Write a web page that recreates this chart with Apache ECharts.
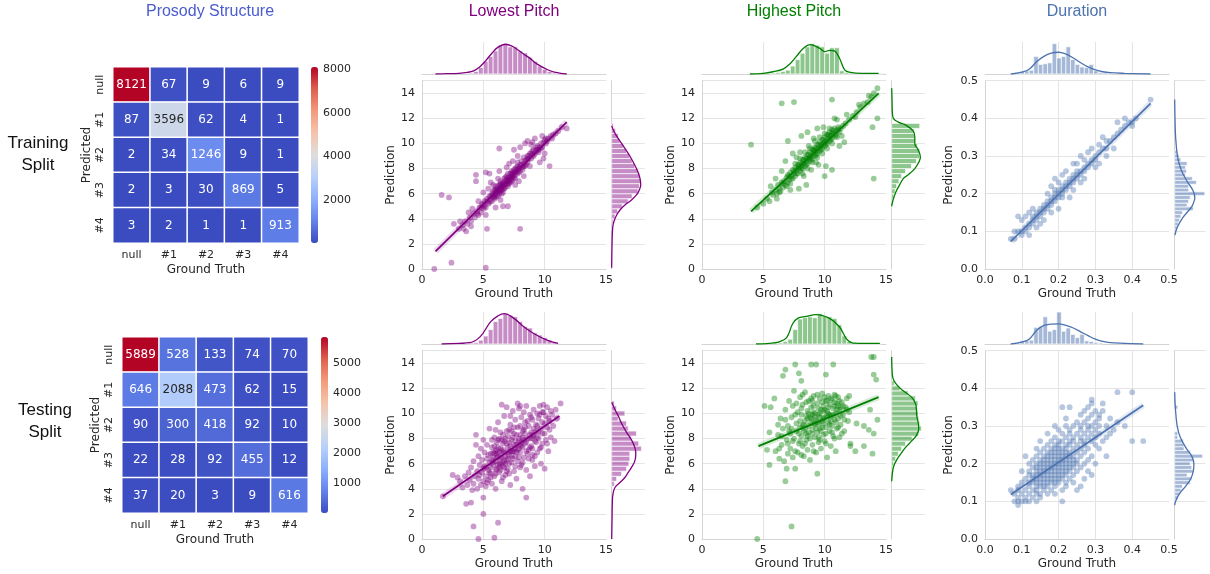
<!DOCTYPE html>
<html><head><meta charset="utf-8">
<script src="https://cdn.jsdelivr.net/npm/echarts@6/dist/echarts.min.js"></script>
<style>html,body{margin:0;padding:0;background:#fff}#c{width:1210px;height:574px}</style>
</head><body><div id="c"></div>
<script>
// ---------------- DATA ----------------
const colTitles = ['Prosody Structure', 'Lowest Pitch', 'Highest Pitch', 'Duration'];
const rowTitles = ['Training\nSplit', 'Testing\nSplit'];
const cmCats = ['null', '#1', '#2', '#3', '#4'];
const cmTrain = [[8121,67,9,6,9],[87,3596,62,4,1],[2,34,1246,9,1],[2,3,30,869,5],[3,2,1,1,913]];
const cmTest = [[5889,528,133,74,70],[646,2088,473,62,15],[90,300,418,92,10],[22,28,92,455,12],[37,20,3,9,616]];

// Lowest pitch, training: [x, y, x, y, ...]
const lpTrainPts = [3.0,3.2, 3.3,3.5, 3.5,3.8, 3.7,3.6, 3.9,4.1, 4.0,3.8, 4.2,4.4, 4.3,4.1, 4.5,4.6, 4.6,4.3, 4.7,4.9, 4.8,4.5, 4.9,5.2, 5.0,4.8, 5.1,5.0, 5.1,5.4, 5.2,4.9, 5.3,5.6, 5.4,5.2, 5.5,5.8, 5.5,5.3, 5.6,5.5, 5.7,6.0, 5.7,5.4, 5.8,5.9, 5.9,5.6, 5.9,6.3, 6.0,6.0, 6.0,5.7, 6.1,6.4, 6.1,5.9, 6.2,6.2, 6.2,6.6, 6.3,6.0, 6.3,6.4, 6.4,6.8, 6.4,6.2, 6.5,6.5, 6.5,6.0, 6.6,6.9, 6.6,6.4, 6.7,6.7, 6.7,7.2, 6.8,6.5, 6.8,7.0, 6.9,6.8, 6.9,7.4, 7.0,7.0, 7.0,6.6, 7.1,7.3, 7.1,7.0, 7.2,7.6, 7.2,6.9, 7.3,7.3, 7.3,7.8, 7.4,7.1, 7.4,7.5, 7.5,7.7, 7.5,7.3, 7.6,8.0, 7.6,7.5, 7.7,7.8, 7.8,8.2, 7.8,7.6, 7.9,8.0, 8.0,8.3, 8.0,7.8, 8.1,8.6, 8.2,8.1, 8.3,8.4, 8.3,8.9, 8.4,8.2, 8.5,8.7, 8.6,9.0, 8.6,8.5, 8.7,8.8, 8.8,9.2, 8.9,8.8, 9.0,9.1, 9.1,9.5, 9.2,9.2, 9.3,9.4, 9.4,9.8, 9.5,9.5, 9.6,9.7, 9.7,10.0, 9.8,9.7, 9.9,10.1, 10.0,10.3, 10.1,10.0, 10.3,10.4, 10.5,10.6, 10.7,10.7, 10.9,10.8, 11.1,11.0, 11.4,11.3, 11.8,11.2,
  1.6,5.9, 2.2,5.7, 1.0,0.0, 2.4,0.5, 5.2,0.1, 8.0,3.2, 5.3,3.2, 4.4,7.5, 4.4,7.0, 5.2,7.7, 5.5,7.6, 6.3,9.6, 7.5,9.5, 10.4,8.2, 10.0,9.2, 2.6,3.6, 3.1,3.8, 3.6,3.0, 4.0,3.4, 6.0,4.9, 6.6,5.0, 7.0,5.0, 5.4,6.4, 5.0,6.1, 5.6,6.9, 6.3,7.8, 8.4,10.0, 8.6,10.2, 8.0,9.7, 9.2,10.4, 9.6,8.5, 9.9,8.8, 8.8,8.2, 7.6,6.7, 7.9,7.0, 8.3,7.4, 6.9,8.1, 7.1,8.4, 6.2,7.2, 5.8,6.7, 9.0,10.1, 9.8,10.6, 10.1,10.4, 6.4,5.5, 5.2,4.3, 4.6,5.4, 4.1,4.8, 3.8,4.5, 3.4,3.2, 7.8,9.0, 8.9,9.9, 7.4,8.6,
  6.5,6.7, 6.8,6.8, 7.0,7.2, 7.2,7.1, 6.6,6.6, 7.4,7.4, 7.6,7.7, 6.1,6.2, 5.8,5.7, 6.3,6.3,
  5.6,5.8, 5.8,6.2, 6.0,6.3, 6.1,6.1, 6.3,6.7, 6.4,6.5, 6.6,6.8, 6.7,6.4, 6.9,7.1, 7.0,6.8, 7.2,7.3, 7.3,7.0, 7.5,7.9, 7.6,7.2, 7.8,7.9, 7.9,7.7, 8.1,8.3, 8.2,7.9, 8.4,8.6, 8.5,8.3, 8.7,9.0, 8.9,9.2, 9.1,9.0, 9.3,9.7, 9.5,9.3, 9.7,9.6, 5.3,5.4, 5.0,5.1, 4.8,4.9, 4.5,4.4, 6.2,5.8, 6.5,6.3, 6.8,7.3, 7.1,6.8, 7.4,7.7, 7.7,8.1, 8.0,8.1, 8.3,8.2, 5.9,5.8, 6.6,6.1, 7.0,7.6, 7.3,7.6, 6.0,6.6, 6.4,7.0, 7.8,8.5, 8.6,8.8, 9.0,9.4, 9.4,9.5, 10.2,10.2, 10.6,10.4];
const lpTrainFit = [[1.1,1.4],[11.8,11.7]];
const lpTrainTopStart = 3.8, lpTrainTopW = 0.4;
const lpTrainTopH = [0.03,0.08,0.2,0.4,0.55,0.72,0.9,0.95,0.85,0.85,0.72,0.66,0.52,0.4,0.25,0.15,0.08,0.03];
const lpTrainTopKde = [[1.1,0],[2,0.01],[3,0.02],[3.7,0.05],[4.2,0.1],[4.7,0.22],[5.2,0.42],[5.7,0.65],[6.2,0.84],[6.8,0.93],[7.3,0.88],[7.8,0.76],[8.3,0.62],[8.7,0.52],[9.2,0.36],[9.7,0.24],[10.2,0.14],[10.7,0.07],[11.2,0.03],[11.8,0]];
const lpTrainRightStart = 3.6, lpTrainRightW = 0.4;
const lpTrainRightH = [0.04,0.1,0.18,0.32,0.5,0.62,0.8,0.84,0.88,0.85,0.8,0.7,0.62,0.55,0.45,0.35,0.25,0.2,0.12,0.05];
const lpTrainRightKde = [[11.4,0],[10.8,0.1],[10,0.3],[9,0.55],[8,0.75],[7.3,0.85],[6.7,0.88],[6.2,0.82],[5.9,0.75],[5.5,0.6],[5.1,0.4],[4.7,0.25],[4.3,0.15],[3.8,0.07],[3.3,0.03],[2,0.01],[0.1,0]];

// Lowest pitch, testing
const lpTestPts = [2.5,5.1, 2.9,4.9, 3.1,4.6, 3.3,4.1, 3.5,5.0, 3.7,4.3, 3.8,5.3, 3.9,4.7, 4.0,5.7, 4.1,3.9, 4.2,4.4, 4.2,6.2, 4.3,5.0, 4.4,8.3, 4.4,7.5, 4.5,5.4, 4.5,4.0, 4.6,6.6, 4.6,4.8, 4.7,5.9, 4.8,7.2, 4.8,4.3, 4.9,5.3, 4.9,6.3, 5.0,4.6, 5.0,7.9, 5.1,5.8, 5.1,6.9, 5.2,4.2, 5.2,5.0, 5.3,6.4, 5.3,7.5, 5.4,5.5, 5.4,4.7, 5.5,6.1, 5.5,8.8, 5.6,6.8, 5.6,5.2, 5.7,7.3, 5.7,4.4, 5.8,5.9, 5.8,6.5, 5.9,8.1, 5.9,5.0, 6.0,6.2, 6.0,7.0, 6.0,4.0, 6.1,5.6, 6.1,7.7, 6.2,6.6, 6.2,9.3, 6.3,5.3, 6.3,6.0, 6.4,7.2, 6.4,8.5, 6.5,4.6, 6.5,6.5, 6.6,5.8, 6.6,7.6, 6.7,9.8, 6.7,6.9, 6.8,5.1, 6.8,8.0, 6.9,6.3, 6.9,10.5, 7.0,7.3, 7.0,5.6, 7.1,8.7, 7.1,6.7, 7.2,9.1, 7.2,4.3, 7.3,7.9, 7.3,6.1, 7.4,7.0, 7.4,10.2, 7.5,8.4, 7.5,5.4, 7.6,6.6, 7.6,9.5, 7.7,7.5, 7.7,4.8, 7.8,8.9, 7.8,6.2, 7.9,7.8, 7.9,10.4, 8.0,6.9, 8.0,8.3, 8.1,5.9, 8.1,9.7, 8.2,7.3, 8.2,4.0, 8.3,8.7, 8.3,6.5, 8.4,9.3, 8.4,7.6, 8.5,10.6, 8.5,5.5, 8.6,8.0, 8.6,6.8, 8.7,9.0, 8.7,7.1, 8.8,9.9, 8.8,5.0, 8.9,8.5, 8.9,7.4, 9.0,9.5, 9.0,6.3, 9.1,8.2, 9.1,10.3, 9.2,7.8, 9.2,5.8, 9.3,9.1, 9.3,8.6, 9.4,10.0, 9.4,6.9, 9.5,8.0, 9.5,9.6, 9.6,7.2, 9.6,10.6, 9.7,8.8, 9.7,6.0, 9.8,9.3, 9.8,7.6, 9.9,10.1, 10.0,8.4, 10.0,5.6, 10.1,9.8, 10.1,7.9, 10.2,10.5, 10.2,8.9, 10.3,7.0, 10.4,9.4, 10.5,10.2, 10.5,8.1, 10.7,9.0, 10.8,7.8, 11.0,9.6, 11.3,10.8, 10.9,10.3,
  1.7,3.4, 3.6,2.8, 4.0,2.9, 4.2,1.0, 5.0,3.3, 5.0,2.0, 6.2,1.3, 4.6,0.0, 5.9,0.1, 8.5,3.3, 6.5,10.7, 7.8,10.8, 8.0,10.6, 9.9,10.7,
  6.3,6.9, 6.6,7.1, 6.9,7.6, 7.2,7.4, 6.4,6.4, 7.0,6.4, 7.5,7.0, 6.1,6.8, 6.8,6.0, 7.3,7.0, 7.6,7.8, 5.8,6.1, 6.2,7.3, 6.5,7.9, 7.9,7.2, 8.1,7.7, 5.6,5.7, 6.0,5.5, 6.7,6.2, 7.4,8.1, 8.0,7.5, 8.4,8.4, 5.9,6.8, 6.3,5.7, 7.1,7.7, 7.7,6.9, 8.2,8.1, 8.8,8.3, 9.0,8.0, 6.6,8.3,
  5.2,5.7, 5.4,6.7, 5.6,4.9, 5.7,6.3, 5.9,7.4, 6.0,5.2, 6.1,6.5, 6.2,5.9, 6.3,8.0, 6.4,5.5, 6.5,7.0, 6.6,6.1, 6.7,7.8, 6.8,6.6, 6.9,5.4, 7.0,8.2, 7.1,6.0, 7.2,7.0, 7.3,8.6, 7.4,6.4, 7.5,7.5, 7.6,5.8, 7.7,8.3, 7.8,7.1, 7.9,6.5, 8.0,9.0, 8.1,7.4, 8.2,6.1, 8.3,7.9, 8.4,8.9, 8.5,7.0, 8.6,9.4, 8.7,6.4, 8.8,8.0, 8.9,9.7, 9.0,7.2, 9.1,8.8, 9.2,6.6, 9.3,7.7, 9.4,9.0, 9.5,8.5, 9.6,9.9, 9.7,7.3, 9.8,8.4, 10.0,9.2, 10.2,7.6, 10.4,8.7, 10.6,9.9, 5.5,5.3, 5.8,6.9, 6.1,7.1, 6.4,6.0, 6.7,5.7, 7.0,6.9, 7.3,6.6, 7.6,7.2, 7.9,8.0, 8.2,8.6, 8.5,7.7, 8.8,7.3, 9.1,8.3, 9.4,8.1, 6.2,7.9, 6.9,8.6, 7.5,8.9, 5.0,5.6, 4.7,5.1, 5.3,4.5, 6.6,4.9, 7.1,5.2, 8.0,5.7, 9.0,6.7, 8.3,10.1, 7.2,9.8, 6.0,8.7, 5.7,7.9, 9.8,10.1, 10.3,9.6];
const lpTestFit = [[1.7,3.4],[11.2,9.8]];
const lpTestTopStart = 3.8, lpTestTopW = 0.4;
const lpTestTopH = [0.03,0.05,0.12,0.25,0.45,0.7,0.8,0.95,0.9,0.85,0.7,0.55,0.5,0.35,0.28,0.2,0.12,0.06];
const lpTestTopKde = [[1.6,0],[3,0.02],[3.9,0.04],[4.75,0.23],[5.6,0.7],[6.2,0.88],[6.7,0.95],[7.5,0.8],[8.3,0.54],[9.1,0.33],[10.2,0.12],[11.1,0.02]];
const lpTestRightStart = 4.2, lpTestRightW = 0.4;
const lpTestRightH = [0.08,0.15,0.3,0.45,0.52,0.55,0.55,0.9,0.82,0.6,0.75,0.5,0.45,0.2,0.4,0.15,0.08];
const lpTestRightKde = [[10.9,0],[10.3,0.1],[9.8,0.2],[9.2,0.3],[8.5,0.45],[7.9,0.6],[7.3,0.7],[6.8,0.73],[6.2,0.7],[5.7,0.6],[5.3,0.5],[4.9,0.4],[4.5,0.25],[4.1,0.1],[3.6,0.04],[3,0.02],[1.5,0.01],[0,0]];

// Highest pitch, training
const hpTrainPts = [4.5,4.9, 5.0,5.2, 5.3,5.6, 5.5,5.4, 5.7,6.1, 5.8,5.9, 6.0,6.3, 6.1,6.0, 6.2,6.7, 6.3,6.4, 6.4,6.2, 6.5,6.9, 6.6,6.5, 6.7,7.0, 6.8,6.7, 6.9,7.3, 7.0,6.9, 7.0,7.5, 7.1,7.1, 7.2,7.7, 7.2,6.8, 7.3,7.4, 7.4,7.9, 7.4,7.2, 7.5,7.6, 7.6,8.1, 7.6,7.4, 7.7,7.9, 7.8,8.3, 7.8,7.6, 7.9,8.0, 8.0,8.5, 8.0,7.8, 8.1,8.2, 8.2,8.7, 8.2,8.0, 8.3,8.4, 8.4,8.9, 8.4,8.2, 8.5,8.6, 8.6,9.1, 8.6,8.4, 8.7,8.8, 8.8,9.3, 8.8,8.6, 8.9,9.0, 9.0,9.5, 9.0,8.8, 9.1,9.2, 9.2,9.7, 9.2,9.0, 9.3,9.4, 9.4,9.9, 9.4,9.2, 9.5,9.6, 9.6,10.1, 9.6,9.4, 9.7,9.8, 9.8,10.3, 9.8,9.6, 9.9,10.0, 10.0,10.5, 10.0,9.8, 10.1,10.2, 10.2,10.7, 10.2,10.0, 10.3,10.4, 10.4,10.9, 10.4,10.2, 10.5,10.6, 10.6,11.1, 10.6,10.4, 10.7,10.8, 10.8,11.2, 10.9,10.7, 11.0,11.0, 11.1,11.3, 11.2,10.9, 11.3,11.2, 11.5,11.4, 11.7,11.6, 12.0,11.9, 12.3,12.2, 12.6,12.5, 12.9,12.9, 13.2,13.2, 13.5,13.3, 13.8,13.7, 14.0,14.0, 14.3,14.4, 13.6,13.8,
  4.0,9.9, 6.5,13.2, 7.5,13.3, 10.6,13.5, 14.0,7.2, 14.3,12.0, 13.9,11.3, 7.0,10.2, 6.8,8.6, 7.4,9.2, 8.1,10.6, 8.6,10.9, 9.4,11.2, 9.9,11.3, 10.1,8.2, 10.6,7.9, 10.0,7.4, 9.5,8.3, 8.5,6.7, 7.9,6.4, 7.2,6.3, 6.5,7.8, 6.0,7.2, 11.2,9.8, 11.6,10.1, 11.8,12.3, 11.0,11.9, 8.3,7.4, 8.9,7.9, 9.1,10.4, 8.0,9.3, 7.7,8.9, 6.1,5.6, 5.6,6.6, 10.8,12.0, 11.4,10.6, 12.8,13.1, 12.5,12.1, 8.7,9.8, 9.3,8.5,
  8.5,8.8, 8.8,8.9, 9.1,9.4, 9.3,9.6, 9.7,9.9, 10.0,10.1, 8.2,8.4, 7.9,8.1, 10.3,10.6, 10.6,10.8,
  7.1,7.4, 7.3,7.2, 7.5,7.8, 7.7,7.6, 7.9,8.3, 8.1,8.0, 8.3,8.7, 8.5,8.3, 8.7,9.1, 8.9,8.7, 9.1,9.5, 9.3,9.1, 9.5,9.9, 9.7,9.5, 9.9,10.3, 10.1,9.9, 10.3,10.7, 10.5,10.3, 10.7,11.0, 10.9,10.6, 11.1,11.1, 7.6,8.4, 8.0,8.8, 8.4,9.3, 8.8,9.6, 9.2,10.2, 9.6,10.5, 10.0,10.8, 10.4,11.2, 8.2,7.6, 8.6,8.0, 9.0,8.5, 9.4,8.9, 9.8,9.2, 10.2,9.6, 10.6,10.0, 11.0,10.5, 6.9,6.6, 6.6,6.8, 6.3,6.1];
const hpTrainFit = [[4.0,4.6],[14.4,14.0]];
const hpTrainTopStart = 5.6, hpTrainTopW = 0.4;
const hpTrainTopH = [0.03,0.05,0.08,0.12,0.25,0.45,0.65,0.85,0.95,0.9,0.85,0.65,0.82,0.82,0.1,0.05,0.03,0.02,0.02,0.02,0.02,0.02,0.02];
const hpTrainTopKde = [[3.9,0],[5.0,0.02],[5.8,0.07],[6.6,0.15],[7.2,0.33],[7.7,0.55],[8.25,0.8],[8.8,0.92],[9.6,0.8],[10.0,0.7],[10.4,0.74],[10.8,0.72],[11.2,0.5],[11.65,0.12],[12.1,0.05],[13,0.02],[14.4,0.02]];
const hpTrainRightStart = 5.2, hpTrainRightW = 0.4;
const hpTrainRightH = [0.03,0.06,0.1,0.15,0.22,0.3,0.42,0.6,0.75,0.85,0.85,0.78,0.7,0.7,0.68,0.85];
const hpTrainRightKde = [[14.4,0],[13.5,0.01],[12.5,0.02],[12,0.05],[11.7,0.2],[11.5,0.4],[11,0.65],[10.5,0.7],[10,0.7],[9.5,0.8],[8.9,0.87],[8.5,0.82],[8,0.7],[7.5,0.5],[7.2,0.35],[6.6,0.22],[6.1,0.12],[5.5,0.04],[5,0]];

// Highest pitch, testing
const hpTestPts = [6.0,7.0, 6.2,8.3, 6.3,6.4, 6.4,9.6, 6.5,7.5, 6.6,8.8, 6.7,6.2, 6.8,10.3, 6.9,7.9, 7.0,9.0, 7.0,6.8, 7.1,11.0, 7.2,8.4, 7.2,7.2, 7.3,9.7, 7.4,6.5, 7.4,10.6, 7.5,8.0, 7.5,11.8, 7.6,7.0, 7.7,9.2, 7.7,8.6, 7.8,10.1, 7.8,6.9, 7.9,7.6, 8.0,11.3, 8.0,8.9, 8.1,8.2, 8.1,9.9, 8.2,7.4, 8.2,10.7, 8.3,8.6, 8.3,6.6, 8.4,9.4, 8.4,11.7, 8.5,7.9, 8.5,8.4, 8.6,10.2, 8.6,7.1, 8.7,9.0, 8.7,11.0, 8.8,8.0, 8.8,6.3, 8.9,9.6, 8.9,10.5, 9.0,8.7, 9.0,7.5, 9.1,11.4, 9.1,9.2, 9.2,8.1, 9.2,10.0, 9.3,6.9, 9.3,9.5, 9.4,10.8, 9.4,8.5, 9.5,7.7, 9.5,9.9, 9.6,11.2, 9.6,8.8, 9.7,10.3, 9.7,7.2, 9.8,9.4, 9.8,11.6, 9.9,8.3, 9.9,10.6, 10.0,9.7, 10.0,7.8, 10.1,11.0, 10.1,8.9, 10.2,10.2, 10.2,6.5, 10.3,9.3, 10.3,11.4, 10.4,8.6, 10.4,10.7, 10.5,9.8, 10.5,7.4, 10.6,11.1, 10.6,9.0, 10.7,10.4, 10.7,8.2, 10.8,11.5, 10.8,9.5, 10.9,10.0, 10.9,7.0, 11.0,10.8, 11.0,8.8, 11.1,9.6, 11.1,11.3, 11.2,10.3, 11.2,8.1, 11.3,9.1, 11.4,10.9, 11.5,9.9, 11.6,8.6, 11.7,10.5, 11.8,11.2, 11.9,9.4, 12.0,10.1, 8.0,9.4, 8.5,9.8, 9.0,9.9, 9.5,10.4, 10.0,10.3, 9.2,9.1, 9.8,8.9, 10.3,10.0, 8.7,8.5, 9.4,9.3,
  7.6,13.9, 6.8,13.5, 8.9,13.9, 9.3,13.9, 10.7,13.9, 10.1,13.1, 7.9,13.2, 8.1,12.6, 6.6,13.0, 5.9,11.2, 5.1,10.6, 5.6,10.5, 13.8,14.5, 14.0,14.5, 14.0,13.1, 14.2,12.7, 6.2,9.1, 5.5,8.5, 5.3,7.1, 5.5,5.9, 7.3,1.0, 4.5,0.0, 6.8,4.6, 9.4,5.2, 7.6,5.6, 6.9,5.6, 12.1,7.6, 12.5,7.0, 13.2,7.4, 13.9,6.8, 14.0,8.4, 13.6,8.7, 12.6,9.2, 14.3,9.5, 13.7,10.3, 13.2,9.0, 12.1,7.4,
  8.2,9.0, 8.9,9.3, 9.6,9.7, 10.4,9.9, 9.1,10.1, 8.4,8.8, 10.8,10.6, 11.3,10.5, 9.9,9.2, 8.6,9.6,
  7.3,8.8, 7.6,9.9, 7.9,8.4, 8.1,10.4, 8.3,9.1, 8.5,10.9, 8.6,8.2, 8.8,9.7, 8.9,11.2, 9.0,8.4, 9.1,10.6, 9.3,8.8, 9.4,11.5, 9.5,9.2, 9.6,10.0, 9.7,8.6, 9.8,10.9, 9.9,9.6, 10.0,11.3, 10.1,8.4, 10.2,9.8, 10.3,10.5, 10.4,9.1, 10.5,11.2, 10.6,8.5, 10.7,9.9, 10.8,10.9, 10.9,9.3, 11.0,10.3, 11.1,8.9, 11.2,11.0, 11.3,9.8, 11.4,8.4, 11.5,10.6, 8.0,7.8, 8.4,7.6, 8.7,10.0, 9.2,9.7, 9.5,8.1, 9.9,10.2, 10.2,11.0, 10.5,9.4, 10.8,8.0, 11.1,10.6, 7.7,10.8, 8.2,11.5, 9.0,11.0, 9.6,7.9, 10.1,7.6, 10.9,11.4, 7.4,7.8, 7.1,8.6, 6.8,9.5, 7.0,7.6, 11.6,9.5, 11.8,10.3, 12.0,11.4, 6.5,8.2, 6.3,7.2, 8.1,6.7, 9.1,7.0];
const hpTestFit = [[4.6,7.4],[14.4,11.3]];
const hpTestTopStart = 6.2, hpTestTopW = 0.4;
const hpTestTopH = [0.04,0.08,0.15,0.45,0.78,0.82,0.85,0.82,0.95,0.88,0.85,0.8,0.6,0.25,0.08,0.04,0.02,0.02,0.02,0.02,0.02];
const hpTestTopKde = [[4.4,0],[5.5,0.02],[6.3,0.07],[6.9,0.2],[7.4,0.64],[7.8,0.8],[8.5,0.86],[9.3,0.92],[10.4,0.8],[11.2,0.54],[11.8,0.15],[12.3,0.03],[13.5,0.02],[14.5,0.02]];
const hpTestRightStart = 5.4, hpTestRightW = 0.4;
const hpTestRightH = [0.03,0.06,0.12,0.2,0.3,0.42,0.62,0.82,0.9,0.85,0.82,0.8,0.78,0.8,0.72,0.5,0.25,0.08];
const hpTestRightKde = [[14.5,0],[13.5,0.01],[12.8,0.04],[12.3,0.15],[11.8,0.35],[11.3,0.6],[10.8,0.72],[10.3,0.75],[9.8,0.76],[9.3,0.8],[8.8,0.82],[8.3,0.76],[7.8,0.6],[7.3,0.42],[6.8,0.28],[6.3,0.15],[5.8,0.06],[5.2,0.02],[4.6,0]];

// Duration, training
const durTrainPts = [0.07,0.08, 0.08,0.08, 0.09,0.10, 0.10,0.09, 0.10,0.10, 0.11,0.11, 0.11,0.10, 0.12,0.12, 0.12,0.11, 0.13,0.13, 0.13,0.12, 0.13,0.14, 0.14,0.14, 0.14,0.13, 0.14,0.15, 0.15,0.15, 0.15,0.14, 0.15,0.16, 0.16,0.16, 0.16,0.15, 0.16,0.17, 0.17,0.17, 0.17,0.16, 0.17,0.18, 0.18,0.18, 0.18,0.17, 0.18,0.19, 0.19,0.19, 0.19,0.18, 0.19,0.20, 0.20,0.20, 0.20,0.19, 0.20,0.21, 0.21,0.21, 0.21,0.20, 0.21,0.22, 0.22,0.22, 0.22,0.21, 0.22,0.23, 0.23,0.23, 0.23,0.22, 0.23,0.24, 0.24,0.24, 0.24,0.23, 0.24,0.25, 0.25,0.25, 0.25,0.24, 0.25,0.26, 0.26,0.26, 0.26,0.25, 0.27,0.27, 0.27,0.26, 0.28,0.28, 0.28,0.27, 0.29,0.29, 0.29,0.28, 0.30,0.30, 0.30,0.29, 0.31,0.31, 0.32,0.32, 0.33,0.32, 0.34,0.34, 0.35,0.35, 0.36,0.36, 0.37,0.37, 0.38,0.38, 0.39,0.39, 0.40,0.39, 0.41,0.40, 0.45,0.45,
  0.09,0.14, 0.11,0.14, 0.19,0.24, 0.20,0.16, 0.33,0.30, 0.31,0.28, 0.27,0.24, 0.26,0.30, 0.25,0.28, 0.32,0.35, 0.35,0.32, 0.40,0.38, 0.38,0.40, 0.36,0.39, 0.12,0.15, 0.14,0.11, 0.15,0.12, 0.21,0.25, 0.18,0.22, 0.17,0.20, 0.16,0.13, 0.23,0.19, 0.24,0.21, 0.28,0.31, 0.29,0.32, 0.30,0.27, 0.24,0.28, 0.26,0.23, 0.22,0.26, 0.20,0.23, 0.18,0.15, 0.13,0.16, 0.10,0.13, 0.08,0.10, 0.12,0.09, 0.33,0.34, 0.31,0.33, 0.27,0.29, 0.21,0.19, 0.19,0.21];
const durTrainFit = [[0.07,0.073],[0.45,0.44]];
const durTrainTopStart = 0.0825, durTrainTopW = 0.0125;
const durTrainTopH = [0.05,0.08,0.1,0.12,0.55,0.3,0.32,0.35,0.95,0.5,0.55,0.85,0.45,0.3,0.22,0.2,0.3,0.1,0.05,0.04,0.03];
const durTrainTopKde = [[0.07,0],[0.1,0.06],[0.12,0.15],[0.14,0.38],[0.16,0.55],[0.18,0.65],[0.2,0.68],[0.22,0.62],[0.24,0.5],[0.26,0.35],[0.28,0.22],[0.3,0.13],[0.32,0.07],[0.34,0.04],[0.38,0.02],[0.45,0]];
const durTrainRightStart = 0.095, durTrainRightW = 0.01;
const durTrainRightH = [0.05,0.08,0.12,0.15,0.2,0.25,0.6,0.4,0.45,0.5,0.97,0.45,0.45,0.7,0.57,0.35,0.38,0.35,0.4,0.2,0.14,0.08];
const durTrainRightKde = [[0.45,0],[0.4,0.01],[0.35,0.03],[0.3,0.09],[0.265,0.2],[0.23,0.42],[0.21,0.58],[0.19,0.65],[0.17,0.58],[0.16,0.5],[0.135,0.25],[0.11,0.08],[0.09,0.01]];

// Duration, testing: rows of [prediction, [ground-truth values]]
const durTestRows = [
  [0.09,[0.09]],
  [0.10,[0.08,0.09,0.10,0.11,0.12,0.14,0.21]],
  [0.11,[0.09,0.11,0.13,0.15]],
  [0.12,[0.08,0.10,0.12,0.14,0.15,0.17,0.19]],
  [0.13,[0.07,0.09,0.11,0.13,0.14,0.16,0.18,0.21,0.25]],
  [0.14,[0.09,0.12,0.14,0.15,0.16,0.17,0.19,0.22,0.26]],
  [0.15,[0.10,0.12,0.13,0.14,0.15,0.16,0.17,0.18,0.19,0.20,0.22,0.24]],
  [0.16,[0.11,0.13,0.14,0.15,0.16,0.17,0.18,0.19,0.20,0.21,0.23,0.27]],
  [0.17,[0.12,0.13,0.14,0.15,0.16,0.17,0.18,0.19,0.20,0.21,0.22,0.24,0.29]],
  [0.18,[0.10,0.12,0.14,0.15,0.16,0.17,0.18,0.19,0.20,0.21,0.22,0.23,0.25,0.28]],
  [0.19,[0.13,0.14,0.15,0.16,0.17,0.18,0.19,0.20,0.21,0.22,0.23,0.24,0.26]],
  [0.20,[0.12,0.14,0.15,0.16,0.17,0.18,0.19,0.20,0.21,0.22,0.23,0.24,0.25,0.27,0.30]],
  [0.21,[0.13,0.15,0.16,0.17,0.18,0.19,0.20,0.21,0.22,0.23,0.24,0.25,0.28]],
  [0.22,[0.11,0.14,0.16,0.17,0.18,0.19,0.20,0.21,0.22,0.23,0.24,0.26,0.29,0.33]],
  [0.23,[0.15,0.17,0.18,0.19,0.20,0.21,0.22,0.23,0.25,0.27]],
  [0.24,[0.14,0.16,0.18,0.19,0.20,0.21,0.22,0.24,0.26,0.28,0.31]],
  [0.25,[0.17,0.19,0.20,0.22,0.23,0.25,0.27,0.30]],
  [0.26,[0.15,0.18,0.20,0.21,0.23,0.24,0.26,0.27,0.29,0.32,0.40,0.43]],
  [0.27,[0.19,0.22,0.24,0.26,0.28,0.30,0.33]],
  [0.28,[0.17,0.21,0.23,0.25,0.27,0.29,0.31,0.34]],
  [0.29,[0.20,0.23,0.26,0.28,0.30,0.35]],
  [0.30,[0.19,0.22,0.24,0.26,0.28,0.29,0.31,0.33,0.38]],
  [0.31,[0.25,0.27,0.30,0.36]],
  [0.32,[0.22,0.28,0.31,0.34]],
  [0.33,[0.26,0.29,0.31]],
  [0.34,[0.27,0.30,0.32]],
  [0.35,[0.21,0.23,0.28]],
  [0.36,[0.29,0.32]],
  [0.37,[0.29]],
  [0.39,[0.36,0.40]]
];
const durTestFit = [[0.07,0.118],[0.43,0.355]];
const durTestTopStart = 0.0825, durTestTopW = 0.0125;
const durTestTopH = [0.05,0.1,0.1,0.12,0.52,0.55,0.85,0.4,0.45,1.0,0.4,0.5,0.3,0.2,0.3,0.1,0.08,0.05,0.03];
const durTestTopKde = [[0.07,0],[0.1,0.06],[0.12,0.15],[0.14,0.42],[0.16,0.58],[0.18,0.62],[0.2,0.63],[0.22,0.58],[0.24,0.5],[0.26,0.38],[0.28,0.26],[0.3,0.15],[0.32,0.08],[0.34,0.04],[0.38,0.02],[0.43,0]];
const durTestRightStart = 0.095, durTestRightW = 0.01;
const durTestRightH = [0.05,0.1,0.15,0.2,0.25,0.5,0.55,0.4,0.6,0.55,0.5,0.6,0.9,0.5,0.3,0.3,0.28,0.1,0.1,0,0,0,0,0,0,0.1];
const durTestRightKde = [[0.39,0],[0.35,0.02],[0.3,0.08],[0.27,0.18],[0.24,0.38],[0.22,0.55],[0.2,0.62],[0.18,0.6],[0.16,0.52],[0.14,0.35],[0.12,0.15],[0.1,0.03],[0.09,0]];

// ---------------- STYLE / LAYOUT ----------------
const COOL = ['#3b4cc0','#6282ea','#8db0fe','#b8d0f9','#dddddd','#f5c4ac','#f49a7b','#de604d','#b40426'];
const TXT = '#262626';
const FONT = 'DejaVu Sans';
const GRIDC = '#e4e4e4';
const SPINE = '#d4d4d4';
const TICK = {color: TXT, fontSize: 11, fontFamily: FONT};
const NAME = {color: TXT, fontSize: 12, fontFamily: FONT};

const grids = [], xAxes = [], yAxes = [], series = [], visualMaps = [];
function addGrid(g) { grids.push(g); return grids.length - 1; }
function pairs(flat) { const out = []; for (let i = 0; i < flat.length; i += 2) out.push([flat[i], flat[i+1]]); return out; }
function bins(start, w, hs) { return hs.map((h, i) => [start + i*w, start + (i+1)*w, h]); }

function heatmap(mat, left, top, cbLeft, cbInterval) {
  const gi = addGrid({left: left, top: top, width: 186, height: 176});
  const ai = xAxes.length;
  xAxes.push({gridIndex: gi, type: 'category', data: cmCats, axisLine: {show: false}, axisTick: {show: false},
    axisLabel: Object.assign({}, TICK, {margin: 7}), splitLine: {show: false},
    name: 'Ground Truth', nameLocation: 'middle', nameGap: 21, nameTextStyle: NAME});
  yAxes.push({gridIndex: gi, type: 'category', data: cmCats, inverse: true, axisLine: {show: false}, axisTick: {show: false},
    axisLabel: Object.assign({}, TICK, {margin: 7, rotate: 90}), splitLine: {show: false},
    name: 'Predicted', nameLocation: 'middle', nameGap: 20, nameTextStyle: NAME});
  const vals = mat.flat(); const mn = Math.min(...vals), mx = Math.max(...vals);
  const data = [];
  mat.forEach((row, r) => row.forEach((v, c) => {
    const t = (v - mn) / (mx - mn);
    data.push({value: [c, r, v], label: {color: (t > 0.3 && t < 0.7) ? TXT : '#ffffff'}});
  }));
  const si = series.length;
  series.push({type: 'heatmap', xAxisIndex: ai, yAxisIndex: ai, data: data,
    label: {show: true, fontSize: 12, fontFamily: FONT},
    itemStyle: {borderColor: '#ffffff', borderWidth: 1.5}, emphasis: {disabled: true}, silent: true});
  visualMaps.push({type: 'continuous', seriesIndex: si, min: mn, max: mx, left: cbLeft, top: top,
    itemWidth: 7, itemHeight: 176, calculable: false, padding: 0, inRange: {color: COOL}, hoverLink: false});
  const g2 = addGrid({left: cbLeft, top: top, width: 7, height: 176});
  xAxes.push({gridIndex: g2, type: 'value', show: false});
  yAxes.push({gridIndex: g2, type: 'value', position: 'right', min: 0, max: mx, interval: cbInterval,
    axisLine: {show: false}, axisTick: {show: true, length: 3, lineStyle: {color: TXT}},
    axisLabel: Object.assign({}, TICK, {margin: 5, showMinLabel: false, showMaxLabel: false, formatter: v => String(v)}),
    splitLine: {show: false}});
}

function panel(o) {
  const W = 184, H = 188.3;
  const fmt = o.dur ? (v => v.toFixed(1)) : (v => String(v));
  const gm = addGrid({left: o.left, top: o.top, width: W, height: H});
  const am = xAxes.length;
  xAxes.push({gridIndex: gm, type: 'value', min: 0, max: o.max, interval: o.xint,
    axisLine: {show: true, lineStyle: {color: SPINE}}, axisTick: {show: false},
    axisLabel: Object.assign({}, TICK, {margin: 6, formatter: fmt}),
    splitLine: {show: true, showMinLine: false, showMaxLine: false, lineStyle: {color: GRIDC}},
    name: 'Ground Truth', nameLocation: 'middle', nameGap: 19, nameTextStyle: NAME});
  yAxes.push({gridIndex: gm, type: 'value', min: 0, max: o.max, interval: o.yint,
    axisLine: {show: true, lineStyle: {color: SPINE}}, axisTick: {show: false},
    axisLabel: Object.assign({}, TICK, {margin: 7, formatter: fmt, showMaxLabel: !!o.dur}),
    splitLine: {show: true, showMinLine: false, lineStyle: {color: GRIDC}},
    name: 'Prediction', nameLocation: 'middle', nameGap: o.dur ? 30 : 23, nameTextStyle: NAME});
  series.push({type: 'line', xAxisIndex: am, yAxisIndex: am, data: o.fit, symbol: 'none', silent: true,
    lineStyle: {color: o.color, width: 6, opacity: 0.15}, z: 3});
  series.push({type: 'scatter', xAxisIndex: am, yAxisIndex: am, data: o.pts, symbolSize: 5.8, silent: true,
    itemStyle: {color: o.color, opacity: 0.4}, z: 2});
  series.push({type: 'line', xAxisIndex: am, yAxisIndex: am, data: o.fit, symbol: 'none', silent: true,
    lineStyle: {color: o.color, width: 1.7}, z: 4});
  const gt = addGrid({left: o.left, top: o.top - 38.7, width: W, height: 32});
  const at = xAxes.length;
  xAxes.push({gridIndex: gt, type: 'value', min: 0, max: o.max, interval: o.xint,
    axisLine: {show: true, lineStyle: {color: SPINE}}, axisTick: {show: false}, axisLabel: {show: false},
    splitLine: {show: true, showMinLine: false, showMaxLine: false, lineStyle: {color: GRIDC}}});
  yAxes.push({gridIndex: gt, type: 'value', min: 0, max: 1, show: false, splitLine: {show: false}});
  series.push({type: 'custom', xAxisIndex: at, yAxisIndex: at, data: o.topBins, silent: true,
    encode: {x: [0, 1], y: 2},
    renderItem: (p, api) => {
      const a = api.coord([api.value(0), 0]), b = api.coord([api.value(1), api.value(2)]);
      return {type: 'rect', shape: {x: a[0], y: b[1], width: b[0] - a[0], height: a[1] - b[1]},
        style: {fill: o.barColor, stroke: '#ffffff', lineWidth: 0.7}};
    }});
  series.push({type: 'line', xAxisIndex: at, yAxisIndex: at, data: o.topKde, symbol: 'none', smooth: 0.4, silent: true,
    lineStyle: {color: o.color, width: 1.3}});
  const gr = addGrid({left: o.left + W + 5.7, top: o.top, width: o.dur ? 31 : 33, height: H});
  const ar = xAxes.length;
  xAxes.push({gridIndex: gr, type: 'value', min: 0, max: 1, show: false, splitLine: {show: false}});
  yAxes.push({gridIndex: gr, type: 'value', min: 0, max: o.max, interval: o.yint,
    axisLine: {show: true, lineStyle: {color: SPINE}}, axisTick: {show: false}, axisLabel: {show: false},
    splitLine: {show: true, showMinLine: false, showMaxLine: !!o.dur, lineStyle: {color: GRIDC}}});
  series.push({type: 'custom', xAxisIndex: ar, yAxisIndex: ar, data: o.rightBins, silent: true,
    encode: {x: 2, y: [0, 1]},
    renderItem: (p, api) => {
      const a = api.coord([0, api.value(0)]), b = api.coord([api.value(2), api.value(1)]);
      return {type: 'rect', shape: {x: a[0], y: b[1], width: b[0] - a[0], height: a[1] - b[1]},
        style: {fill: o.barColor, stroke: '#ffffff', lineWidth: 0.7}};
    }});
  series.push({type: 'line', xAxisIndex: ar, yAxisIndex: ar, data: o.rightKde.map(d => [d[1], d[0]]), symbol: 'none',
    smooth: 0.4, silent: true, lineStyle: {color: o.color, width: 1.3}});
}

const PURPLE = '#800080', GREEN = '#008000', BLUE = '#4c72b0';
const PURPLE_BAR = 'rgba(128,0,128,0.45)', GREEN_BAR = 'rgba(0,128,0,0.45)', BLUE_BAR = 'rgba(76,114,176,0.5)';

const durTestPts = [];
durTestRows.forEach(r => r[1].forEach(x => durTestPts.push(x, r[0])));

const rowTops = [80.7, 350.7];
heatmap(cmTrain, 113, 67, 311, 2000);
heatmap(cmTest, 122, 337, 321, 1000);

const rows = [
  {lp: [lpTrainPts, lpTrainFit, lpTrainTopStart, lpTrainTopW, lpTrainTopH, lpTrainTopKde, lpTrainRightStart, lpTrainRightW, lpTrainRightH, lpTrainRightKde],
   hp: [hpTrainPts, hpTrainFit, hpTrainTopStart, hpTrainTopW, hpTrainTopH, hpTrainTopKde, hpTrainRightStart, hpTrainRightW, hpTrainRightH, hpTrainRightKde],
   du: [durTrainPts, durTrainFit, durTrainTopStart, durTrainTopW, durTrainTopH, durTrainTopKde, durTrainRightStart, durTrainRightW, durTrainRightH, durTrainRightKde]},
  {lp: [lpTestPts, lpTestFit, lpTestTopStart, lpTestTopW, lpTestTopH, lpTestTopKde, lpTestRightStart, lpTestRightW, lpTestRightH, lpTestRightKde],
   hp: [hpTestPts, hpTestFit, hpTestTopStart, hpTestTopW, hpTestTopH, hpTestTopKde, hpTestRightStart, hpTestRightW, hpTestRightH, hpTestRightKde],
   du: [durTestPts, durTestFit, durTestTopStart, durTestTopW, durTestTopH, durTestTopKde, durTestRightStart, durTestRightW, durTestRightH, durTestRightKde]}
];
function mk(d, left, top, color, barColor, dur) {
  panel({left: left, top: top, color: color, barColor: barColor, dur: dur,
    max: dur ? 0.5 : 15, xint: dur ? 0.1 : 5, yint: dur ? 0.1 : 2,
    pts: pairs(d[0]), fit: d[1], topBins: bins(d[2], d[3], d[4]), topKde: d[5],
    rightBins: bins(d[6], d[7], d[8]), rightKde: d[9]});
}
rows.forEach((r, i) => {
  mk(r.lp, 422, rowTops[i], PURPLE, PURPLE_BAR, false);
  mk(r.hp, 702, rowTops[i], GREEN, GREEN_BAR, false);
  mk(r.du, 985, rowTops[i], BLUE, BLUE_BAR, true);
});

const titleColors = ['#4b5bd0', PURPLE, GREEN, BLUE];
const titleX = [210, 514, 794, 1077];
const graphic = [];
colTitles.forEach((t, i) => graphic.push({type: 'text', x: titleX[i], y: 12, style: {text: t, fill: titleColors[i],
  font: '16px "Liberation Sans", Arial, sans-serif', textAlign: 'center', textVerticalAlign: 'middle'}}));
graphic.push({type: 'text', x: 38, y: 154, style: {text: rowTitles[0], fill: '#111', font: '17px "Liberation Sans", Arial, sans-serif',
  textAlign: 'center', textVerticalAlign: 'middle', lineHeight: 22}});
graphic.push({type: 'text', x: 45, y: 421, style: {text: rowTitles[1], fill: '#111', font: '17px "Liberation Sans", Arial, sans-serif',
  textAlign: 'center', textVerticalAlign: 'middle', lineHeight: 22}});

const chart = echarts.init(document.getElementById('c'));
chart.setOption({
  animation: false,
  backgroundColor: '#ffffff',
  grid: grids, xAxis: xAxes, yAxis: yAxes, series: series, visualMap: visualMaps, graphic: graphic
});
</script></body></html>
